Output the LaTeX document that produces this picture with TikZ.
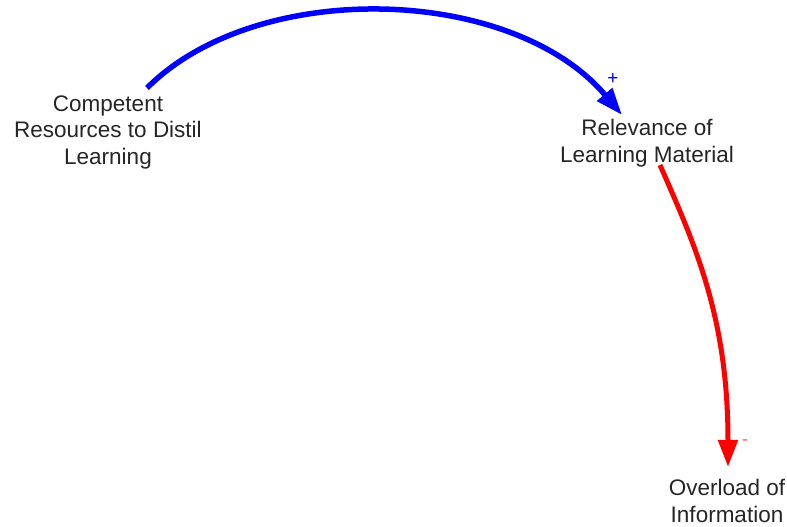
\documentclass[tikz,border=0pt]{standalone}
\usepackage{fontspec}
\setmainfont{Liberation Sans}
\usetikzlibrary{arrows.meta,calc}
\begin{document}
\begin{tikzpicture}[x=1pt,y=1pt,
  var/.style={inner sep=0pt,align=center,text=black!85,font=\fontsize{22.5}{26.5}\selectfont},
  link/.style={line width=#1,-{Triangle[length=27pt,width=19pt]}},
  polarity/.style={inner sep=0pt,font=\fontsize{19}{19}\selectfont}]
\useasboundingbox (0,0) rectangle (787,527);
\fill[white] (0,0) rectangle (787,527);

% variables
\node[var] (cr) at (108,395) {Competent\\Resources to Distil\\Learning};
\node[var] (rel) at (647,384) {Relevance of\\Learning Material};
\node[var] (ovl) at (727,26) {Overload of\\Information};

% connector end points
\coordinate (b0) at ($(cr.center)+(39,44)$);
\coordinate (b1) at ($(rel.center)+(-25,28)$);
\coordinate (r0) at ($(rel.center)+(13,-22)$);
\coordinate (r1) at ($(ovl.center)+(1,34)$);

% causal links
\draw[link=5.5pt,blue] (b0) .. controls +(110,110) and +(-110,130) .. (b1);
\draw[link=5pt,red] (r0) .. controls +(35,-80) and +(0,150) .. (r1);

% polarities
\node[polarity,text=blue] (pplus) at ($(b1)+(-9,36)$) {+};
\node[polarity,text=red!60] (pminus) at ($(r1)+(17,24)$) {-};
\end{tikzpicture}
\end{document}
